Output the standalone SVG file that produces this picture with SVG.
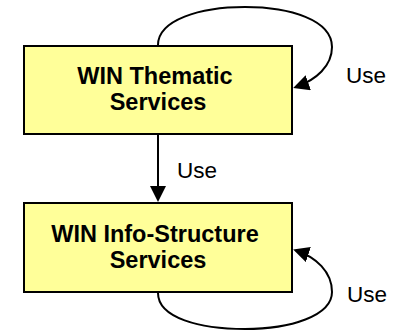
<svg xmlns="http://www.w3.org/2000/svg" width="396" height="332" viewBox="0 0 396 332">
<style>
.box{fill:#FFFF99;stroke:#000;stroke-width:2}
.title{font-family:"Liberation Sans",Arial,sans-serif;font-weight:bold;font-size:23.5px;fill:#000;text-anchor:middle}
.lbl{font-family:"Liberation Sans",Arial,sans-serif;font-size:22.5px;fill:#000}
.conn{fill:none;stroke:#000;stroke-width:2;marker-end:url(#arr)}
</style>
<defs>
<marker id="arr" markerUnits="userSpaceOnUse" markerWidth="17" markerHeight="17" refX="13" refY="8" orient="auto">
<path d="M0,0 L16,8 L0,16 z" fill="#000"/>
</marker>
</defs>
<g id="node-thematic">
<rect class="box" x="24" y="46" width="268" height="88"/>
<text class="title" x="155" y="84">WIN Thematic</text>
<text class="title" x="158" y="110">Services</text>
</g>
<g id="node-infostructure">
<rect class="box" x="24" y="203" width="268" height="89"/>
<text class="title" x="155" y="242">WIN Info-Structure</text>
<text class="title" x="158" y="268">Services</text>
</g>
<g id="connectors">
<path class="conn" d="M158,45 C158,20 200,7 245,7 C290,7 332,20 332,47 C332,66 316,80 296,87"/>
<path class="conn" d="M158,135 L158,199"/>
<path class="conn" d="M158,293 C158,318 200,329 245,329 C290,329 332,316 332,292 C332,272 316,257 296,250.5"/>
<text class="lbl" x="346" y="83">Use</text>
<text class="lbl" x="177" y="178">Use</text>
<text class="lbl" x="347" y="302">Use</text>
</g>
</svg>
